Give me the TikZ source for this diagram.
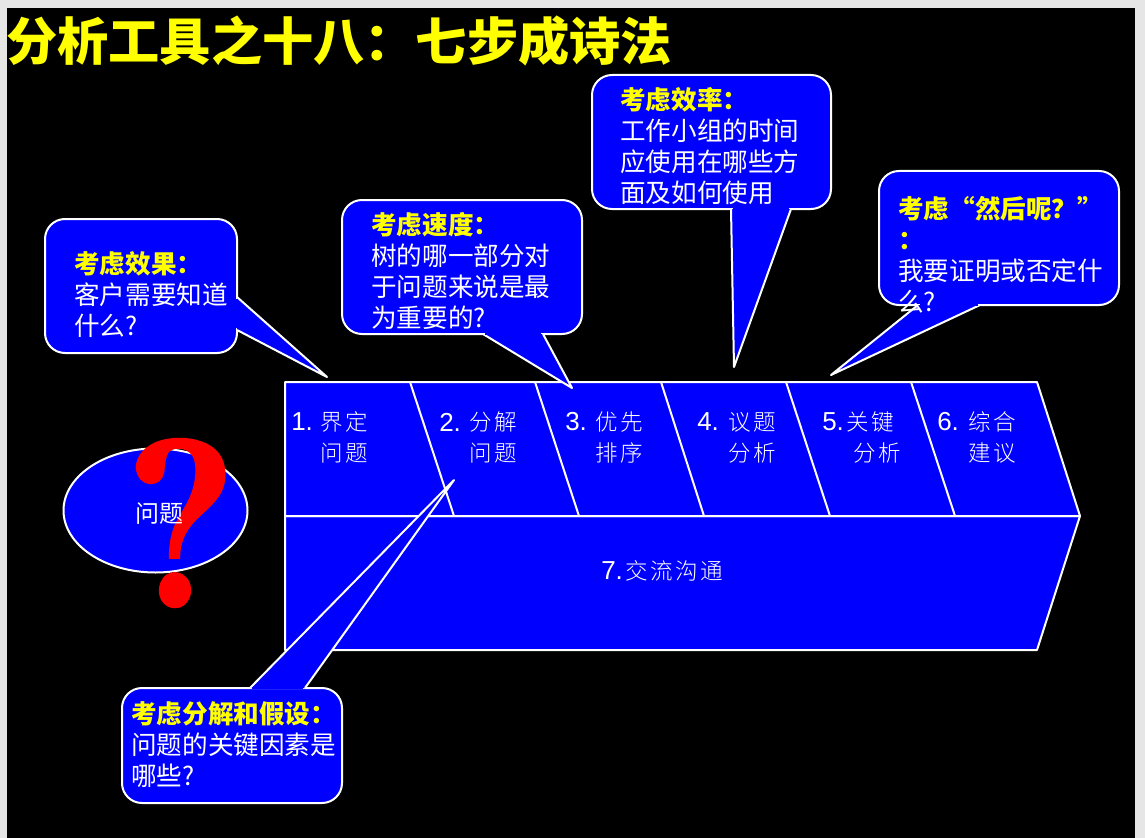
\documentclass[tikz,border=0pt]{standalone}
\usepackage{fontspec}
\setmainfont{Noto Sans CJK SC}
\newfontfamily\latinsans{Liberation Sans}
\newfontfamily\qfont[BoldFeatures={FakeBold=1.4}]{Abhaya Libre}
\newfontfamily\stepfont[UprightFont=* Light,LetterSpace=12]{Noto Sans CJK SC}
\newfontfamily\bodyfont{Noto Sans CJK SC}
\definecolor{pureblue}{RGB}{0,0,255}
\definecolor{pureyellow}{RGB}{255,255,0}
\definecolor{purered}{RGB}{255,0,0}
\definecolor{pagegray}{RGB}{230,230,230}
\tikzset{
  shapebox/.style={draw=white,fill=pureblue,line width=1.5pt,line join=round},
  roundbox/.style={shapebox,rounded corners=15pt},
  seamline/.style={draw=pureblue,line width=2.2pt,shorten >=1.2pt,shorten <=1.2pt},
  callouttext/.style={anchor=north west,inner sep=0pt,align=left,text=white,font=\fontsize{19.2}{23.2}\selectfont\bodyfont},
  steptext/.style={anchor=west,inner sep=0pt,align=left,text=white},
}
\newcommand{\hd}[1]{\rule{0pt}{18pt}\textcolor{pureyellow}{\fontsize{19.2}{23.2}\selectfont\normalfont\bfseries #1}}
\newcommand{\num}[1]{{\fontsize{19.5}{23}\selectfont\latinsans #1}}
\newcommand{\stp}[1]{{\fontsize{16.9}{23}\selectfont\stepfont #1}}
\newcommand{\bubble}[7]{%
  \draw[roundbox] (#1,#2) rectangle (#3,#4);
  \draw[shapebox] #5 -- #6 -- #7;
  \draw[seamline] #5 -- #7;
}
\begin{document}
\begin{tikzpicture}[x=0.75pt,y=-0.75pt]
\useasboundingbox (0,0) rectangle (1145,838);
\fill[pagegray] (0,0) rectangle (1145,838);
\fill[black] (7,8) rectangle (1135,838);

% title
\node[anchor=west,inner sep=0pt,text=pureyellow,font=\fontsize{38.4}{40}\selectfont\bfseries] (title) at (6,41) {分析工具之十八：七步成诗法};

% problem ellipse with question mark
\draw[shapebox] (155.5,510.5) ellipse [x radius=92,y radius=62];
\node[inner sep=0pt,text=purered,xscale=0.9,font=\fontsize{208}{208}\selectfont\qfont\bfseries] (qmark) at (180,523) {?};
\node[inner sep=0pt,text=white,font=\fontsize{18}{20}\selectfont\bodyfont] (problem) at (159,514) {问题};

% chevrons
\draw[shapebox] (285,516) -- (1080,516) -- (1037,650) -- (285,650) -- cycle;
\draw[shapebox] (285,382) -- (1037,382) -- (1080,516) -- (285,516) -- cycle;
\draw[shapebox] (410,382) -- (454,516);
\draw[shapebox] (535,382) -- (579,516);
\draw[shapebox] (661,382) -- (704,516);
\draw[shapebox] (786,382) -- (830,516);
\draw[shapebox] (911,382) -- (955,516);

% step labels
\node[steptext] (s1) at (291,422) {\num{1.}};
\node[steptext] (s1a) at (320,422) {\stp{界定}};
\node[steptext] (s1b) at (320,453) {\stp{问题}};
\node[steptext] (s2) at (439,422) {\num{2.}};
\node[steptext] (s2a) at (469,422) {\stp{分解}};
\node[steptext] (s2b) at (469,453) {\stp{问题}};
\node[steptext] (s3) at (565,422) {\num{3.}};
\node[steptext] (s3a) at (595,422) {\stp{优先}};
\node[steptext] (s3b) at (595,453) {\stp{排序}};
\node[steptext] (s4) at (697,422) {\num{4.}};
\node[steptext] (s4a) at (728,422) {\stp{议题}};
\node[steptext] (s4b) at (728,453) {\stp{分析}};
\node[steptext] (s5) at (822,422) {\num{5.}};
\node[steptext] (s5a) at (846,422) {\stp{关键}};
\node[steptext] (s5b) at (853,453) {\stp{分析}};
\node[steptext] (s6) at (937,422) {\num{6.}};
\node[steptext] (s6a) at (968,422) {\stp{综合}};
\node[steptext] (s6b) at (968,453) {\stp{建议}};
\node[steptext] (s7) at (601,571) {\num{7.}};
\node[steptext] (s7a) at (625,571) {\stp{交流沟通}};

% callouts
\bubble{45}{219}{237}{353}{(237,297)}{(327,377)}{(237,330)}
\node[callouttext] (c1) at (74,249) {\hd{考虑效果：}\\客户需要知道\\什么?};

\bubble{342}{200}{582}{334}{(543,334)}{(572,388)}{(483,334)}
\node[callouttext] (c2) at (371,210) {\hd{考虑速度：}\\树的哪一部分对\\于问题来说是最\\为重要的?};

\bubble{592}{75}{831}{209}{(791,209)}{(734,367)}{(731,209)}
\node[callouttext] (c3) at (620,85) {\hd{考虑效率：}\\工作小组的时间\\应使用在哪些方\\面及如何使用};

\bubble{879}{171}{1119}{305}{(980,305)}{(831,375)}{(918,305)}
\node[callouttext] (c4) at (898,194) {\hd{考虑“然后呢？”}\\\hd{：}\\我要证明或否定什\\么?};

\bubble{122}{688}{342}{803}{(250,688)}{(454,480)}{(305,688)}
\node[callouttext] (c5) at (131,699) {\hd{考虑分解和假设：}\\问题的关键因素是\\哪些?};
\end{tikzpicture}
\end{document}
